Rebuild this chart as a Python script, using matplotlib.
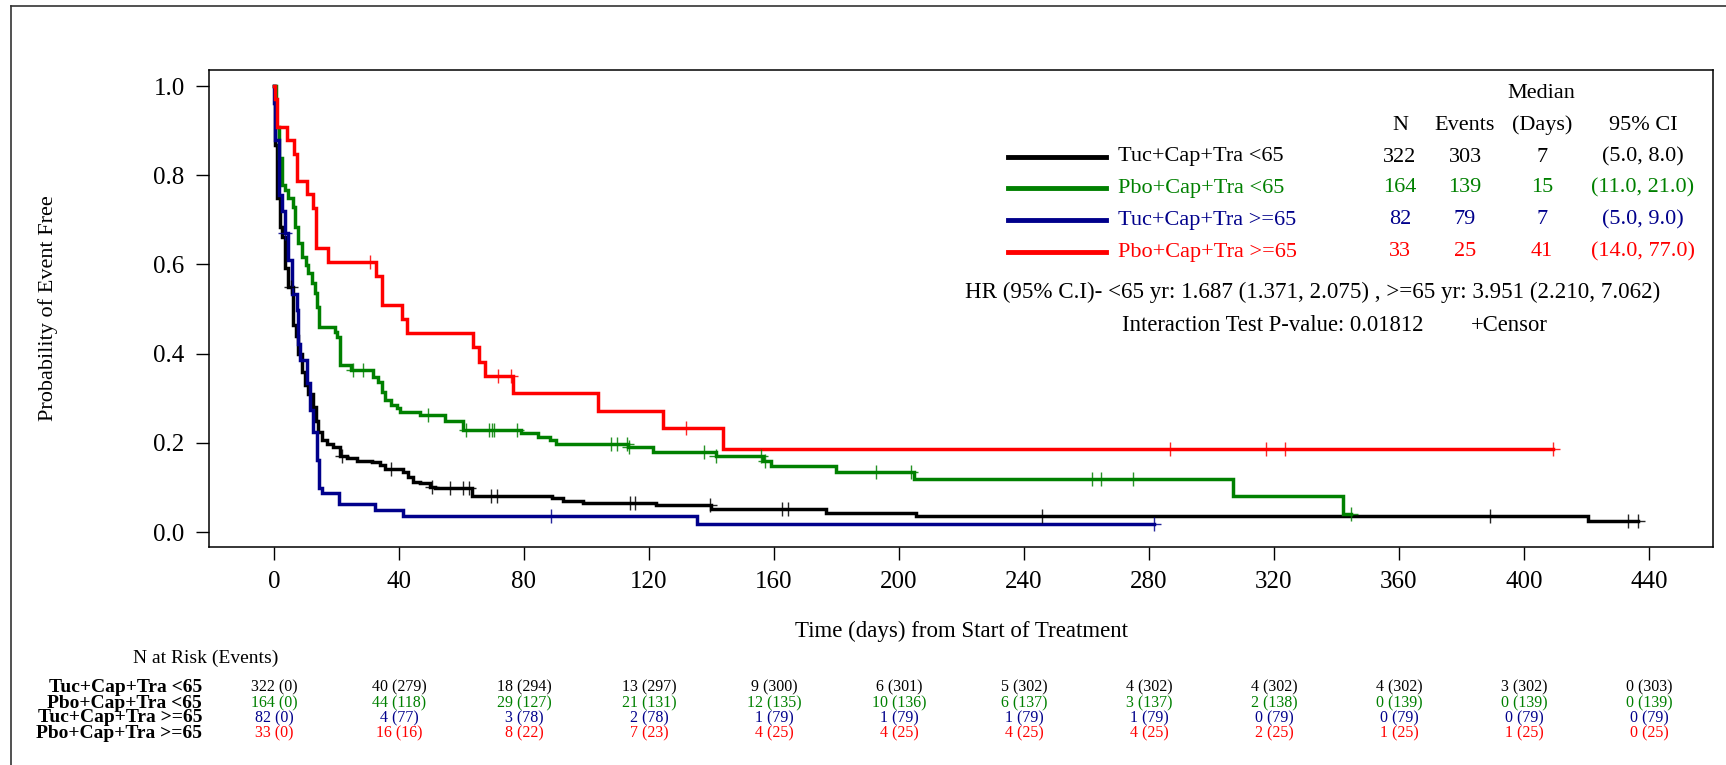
import numpy as np
import matplotlib
matplotlib.use('Agg')
import matplotlib.pyplot as plt
import matplotlib.transforms as mtransforms
from matplotlib.lines import Line2D

plt.rcParams['font.family'] = ['Liberation Serif', 'DejaVu Serif']

# ---------------- data ----------------
groups = ['Tuc+Cap+Tra <65', 'Pbo+Cap+Tra <65', 'Tuc+Cap+Tra >=65', 'Pbo+Cap+Tra >=65']
colors = ['#000000', '#008000', '#00008B', '#FF0000']

# Kaplan-Meier step values (time in days, survival after the step)
black_t = [0, 0.3, 1.0, 1.9, 2.7, 3.5, 4.6, 6.2, 7.0, 7.8, 8.9, 10.0, 11.0, 12.6, 13.5,
           14.2, 15.3, 16.9, 19.0, 21.1, 23.3, 26.5, 31.3, 34.0, 35.5, 41.4, 43.0, 44.6,
           46.7, 49.9, 51.5, 63.3, 88.9, 92.6, 99.0, 122.4, 140.0, 176.8, 205.6, 420.4]
black_s = [1.0, 0.868, 0.75, 0.684, 0.662, 0.591, 0.550, 0.464, 0.44, 0.40, 0.359, 0.33,
           0.31, 0.281, 0.25, 0.225, 0.206, 0.198, 0.19, 0.171, 0.167, 0.159, 0.157, 0.150,
           0.142, 0.135, 0.124, 0.113, 0.109, 0.102, 0.098, 0.080, 0.0755, 0.070, 0.066,
           0.0605, 0.052, 0.043, 0.036, 0.024]
black_end = 436.4
black_c = [5.3, 21.7, 37.6, 50.5, 56.3, 60.6, 62.3, 69.6, 71.4, 114.0, 115.5, 139.5,
           162.7, 164.5, 245.8, 389.1, 433.3, 436.4]

green_t = [0, 0.8, 1.6, 2.5, 3.5, 4.6, 6.0, 6.7, 7.6, 8.9, 10.2, 11.0, 12.1, 13.1, 13.7,
           14.5, 19.5, 20.3, 21.1, 24.8, 31.8, 33.4, 34.5, 35.5, 37.6, 39.3, 40.3, 46.7,
           54.7, 60.6, 79.2, 84.6, 88.3, 90.4, 113.4, 121.4, 141.6, 156.6, 159.2, 179.7,
           204.8, 306.9, 342.0]
green_s = [1.0, 0.909, 0.838, 0.778, 0.767, 0.748, 0.729, 0.684, 0.647, 0.617, 0.599,
           0.580, 0.558, 0.535, 0.505, 0.460, 0.449, 0.438, 0.374, 0.363, 0.348, 0.337,
           0.314, 0.296, 0.285, 0.277, 0.270, 0.262, 0.249, 0.228, 0.221, 0.212, 0.206,
           0.197, 0.190, 0.180, 0.170, 0.160, 0.148, 0.135, 0.120, 0.080, 0.040]
green_end = 344.8
green_c = [25.4, 28.5, 49.4, 61.5, 68.9, 69.7, 70.5, 77.7, 107.8, 109.7, 113.0, 113.7,
           137.7, 141.6, 155.7, 157.0, 192.8, 204.0, 261.9, 264.7, 274.8, 344.8]

blue_t = [0, 0.1, 0.3, 1.6, 2.5, 3.5, 4.6, 5.7, 7.3, 7.8, 8.3, 10.5, 11.5, 12.6, 13.7,
          14.5, 15.3, 20.8, 32.3, 41.4, 135.3]
blue_s = [1.0, 0.963, 0.878, 0.756, 0.720, 0.671, 0.609, 0.534, 0.497, 0.422, 0.385,
          0.335, 0.273, 0.224, 0.161, 0.099, 0.087, 0.062, 0.050, 0.037, 0.019]
blue_end = 281.5
blue_c = [3.5, 88.5, 281.5]

red_t = [0, 0.3, 1.1, 4.3, 6.5, 7.5, 10.5, 12.6, 13.4, 17.4, 32.6, 34.5, 40.9, 42.5,
         63.8, 65.6, 67.5, 76.4, 103.6, 124.6, 143.8]
red_s = [1.0, 0.970, 0.909, 0.879, 0.848, 0.788, 0.758, 0.727, 0.636, 0.606, 0.574,
         0.510, 0.478, 0.446, 0.414, 0.382, 0.350, 0.311, 0.272, 0.233, 0.187]
red_end = 409.3
red_c = [30.7, 71.7, 75.8, 131.7, 286.8, 317.6, 323.6, 409.3]

# summary table
n_total = ['322', '164', '82', '33']
n_events = ['303', '139', '79', '25']
median_days = ['7', '15', '7', '41']
median_ci = ['(5.0, 8.0)', '(11.0, 21.0)', '(5.0, 9.0)', '(14.0, 77.0)']
hr_text = 'HR (95% C.I)- <65 yr: 1.687 (1.371, 2.075) , >=65 yr: 3.951 (2.210, 7.062)'
p_text = 'Interaction Test P-value: 0.01812'

# number at risk table
risk_times = [0, 40, 80, 120, 160, 200, 240, 280, 320, 360, 400, 440]
risk_black = ['322 (0)', '40 (279)', '18 (294)', '13 (297)', '9 (300)', '6 (301)', '5 (302)',
              '4 (302)', '4 (302)', '4 (302)', '3 (302)', '0 (303)']
risk_green = ['164 (0)', '44 (118)', '29 (127)', '21 (131)', '12 (135)', '10 (136)', '6 (137)',
              '3 (137)', '2 (138)', '0 (139)', '0 (139)', '0 (139)']
risk_blue = ['82 (0)', '4 (77)', '3 (78)', '2 (78)', '1 (79)', '1 (79)', '1 (79)', '1 (79)',
             '0 (79)', '0 (79)', '0 (79)', '0 (79)']
risk_red = ['33 (0)', '16 (16)', '8 (22)', '7 (23)', '4 (25)', '4 (25)', '4 (25)', '4 (25)',
            '2 (25)', '1 (25)', '1 (25)', '0 (25)']

W, H = 1726, 765
fig = plt.figure(figsize=(W / 100, H / 100), dpi=100)


def fx(px):
    return px / W


def fy(py):
    return 1 - py / H


ax = fig.add_axes([fx(209), fy(547), fx(1713) - fx(209), fy(70) - fy(547)])

series = [
    (black_t, black_s, black_end, black_c),
    (green_t, green_s, green_end, green_c),
    (blue_t, blue_s, blue_end, blue_c),
    (red_t, red_s, red_end, red_c),
]

for (t, s, end, cens), col in zip(series, colors):
    t = np.asarray(t, float)
    s = np.asarray(s, float)
    tt = np.append(t, end)
    ss = np.append(s, s[-1])
    ax.step(tt, ss, where='post', color=col, lw=2.5, solid_joinstyle='miter', zorder=3)
    c = np.asarray(cens, float)
    idx = np.searchsorted(t, c, side='right') - 1
    ax.plot(c, s[idx], ls='none', marker='+', ms=10, mew=1.0, color=col, alpha=0.85, zorder=4)

ax.set_xlim(-20.8, 460.5)
ax.set_ylim(-0.0336, 1.036)
ax.set_xticks(risk_times)
ax.set_yticks([0.0, 0.2, 0.4, 0.6, 0.8, 1.0])
ax.set_yticklabels(['0.0', '0.2', '0.4', '0.6', '0.8', '1.0'])
ax.tick_params(axis='both', labelsize=18, length=9.5, width=1.0, direction='out', pad=8)
for sp in ax.spines.values():
    sp.set_linewidth(1.1)

fig.text(fx(48), fy(308), 'Probability of Event Free', rotation=90, ha='center', va='center',
         fontsize=16)
fig.text(fx(961), fy(631), 'Time (days) from Start of Treatment', ha='center', va='center',
         fontsize=16.5)

# legend / summary block
fig.text(fx(1541), fy(93), 'Median', ha='center', va='center', fontsize=16)
head_x = [1400, 1465, 1542, 1643]
for hx, lab in zip(head_x, ['N', 'Events', '(Days)', '95% CI']):
    fig.text(fx(hx), fy(125), lab, ha='center', va='center', fontsize=16)

row_y = [157, 188, 220, 252]
for i, col in enumerate(colors):
    y = fy(row_y[i])
    fig.add_artist(Line2D([fx(1008), fx(1106)], [y, y], color=col, lw=3.5,
                          transform=fig.transFigure))
    fig.text(fx(1118), y, groups[i], ha='left', va='center', fontsize=16, color=col)
    vals = [n_total[i], n_events[i], median_days[i], median_ci[i]]
    for hx, v in zip(head_x, vals):
        fig.text(fx(hx), y, v, ha='center', va='center', fontsize=16, color=col)

fig.text(fx(1313), fy(292), hr_text, ha='center', va='center', fontsize=16.6)
fig.text(fx(1122), fy(325), p_text, ha='left', va='center', fontsize=16.3)
fig.text(fx(1471), fy(325), '+Censor', ha='left', va='center', fontsize=16.3)

# number at risk table
trans = mtransforms.blended_transform_factory(ax.transData, fig.transFigure)
fig.text(fx(133), fy(658), 'N at Risk (Events)', ha='left', va='center', fontsize=14)
risk_rows = [risk_black, risk_green, risk_blue, risk_red]
risk_y = [687, 703, 718, 733]
for i, (row, col) in enumerate(zip(risk_rows, colors)):
    fig.text(fx(202), fy(risk_y[i]), groups[i], ha='right', va='center', fontsize=14,
             fontweight='bold')
    for t, v in zip(risk_times, row):
        ax.text(t, fy(risk_y[i]), v, transform=trans, ha='center', va='center',
                fontsize=11.5, color=col)

# outer frame (runs off the right and bottom edges)
fig.add_artist(Line2D([fx(11), 1.0], [fy(6), fy(6)], color='#333333', lw=1.2,
                      transform=fig.transFigure))
fig.add_artist(Line2D([fx(11), fx(11)], [fy(6), 0.0], color='#333333', lw=1.2,
                      transform=fig.transFigure))

fig.savefig('out.png', dpi=100)
